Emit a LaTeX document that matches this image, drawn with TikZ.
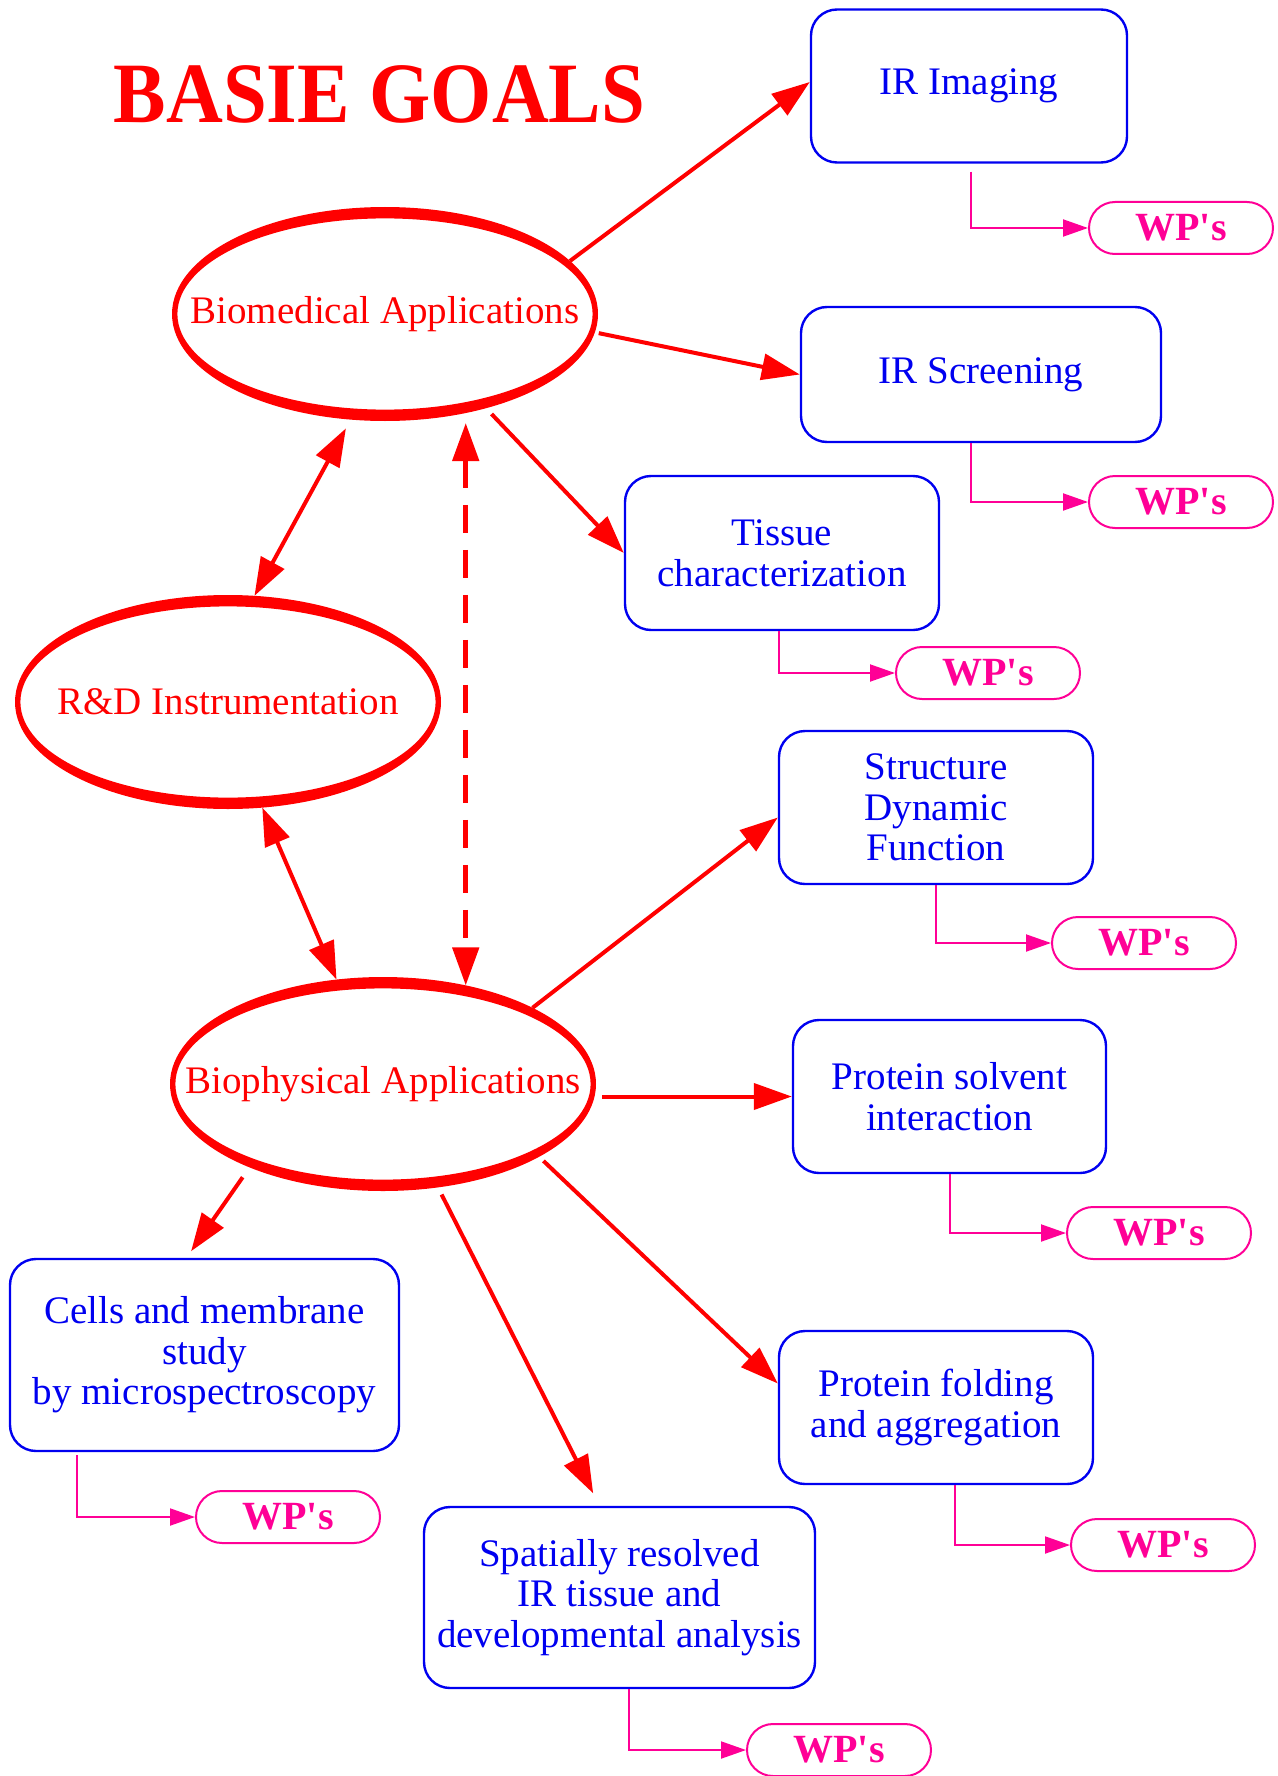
\documentclass[tikz,border=0pt]{standalone}
\usepackage{graphicx}
\usepackage{fontspec}
\setmainfont{Liberation Serif}
\usetikzlibrary{arrows.meta,shapes.geometric}
\definecolor{myred}{RGB}{255,0,0}
\definecolor{myblue}{RGB}{0,0,240}
\definecolor{mymag}{RGB}{255,0,150}
\newcommand{\wptext}{WP\textquotesingle s}
\begin{document}
\begin{tikzpicture}[x=0.5pt,y=-0.5pt,
  goal/.style={ellipse, minimum width=213pt, minimum height=107pt, inner sep=0pt, outer sep=0pt, text=myred, font=\fontsize{19.5}{20.3}\selectfont},
  ring/.style={fill=myred, even odd rule},
  box/.style={draw=myblue, line width=1.2pt, rounded corners=13pt, text=myblue, align=center, font=\fontsize{19.5}{20.3}\selectfont, inner sep=0pt},
  wp/.style={draw=mymag, line width=1pt, rounded corners=13pt, minimum width=92pt, minimum height=26pt, text=mymag, font=\fontsize{20}{20}\selectfont\bfseries, inner sep=0pt},
  redarr/.style={draw=myred, line width=2pt, -{Triangle[length=19pt,width=13pt]}},
  dblarr/.style={draw=myred, line width=2pt, {Triangle[length=19pt,width=13pt]}-{Triangle[length=19pt,width=13pt]}},
  dasharr/.style={draw=myred, line width=2.5pt, dash pattern=on 14pt off 8.5pt, {Triangle[length=19pt,width=13pt]}-{Triangle[length=19pt,width=13pt]}},
  wparr/.style={draw=mymag, line width=1pt, -{Triangle[length=12.5pt,width=8.5pt]}},
  ]
\useasboundingbox (0,0) rectangle (1278,1776);

% title
\node[anchor=base, text=myred, font=\fontsize{43}{43}\selectfont\bfseries, inner sep=0pt] (title) at (379.5,123) {\scalebox{0.915}[1]{BASIE GOALS}};

% ellipses
\node[goal] (bio) at (385,314) {\makebox[0pt]{Biomedical Applications}};
\node[goal] (rd) at (228,702) {\makebox[0pt]{R\&D Instrumentation}};
\node[goal] (biop) at (383,1084) {\makebox[0pt]{Biophysical Applications}};
\foreach \n in {bio,rd,biop}{
  \fill[ring] (\n.center) ellipse [x radius=106.5pt, y radius=53.5pt]
              (\n.center) ellipse [x radius=103.8pt, y radius=47.8pt];
}

% boxes
\node[box, minimum width=158pt, minimum height=76.5pt] (irimg) at (969,86) {IR Imaging};
\node[box, minimum width=180pt, minimum height=67.5pt] (irscr) at (981,374.5) {IR Screening};
\node[box, minimum width=157pt, minimum height=77pt] (tissue) at (782,553) {Tissue\\characterization};
\node[box, minimum width=157pt, minimum height=76.5pt] (struct) at (936,807.5) {Structure\\Dynamic\\Function};
\node[box, minimum width=156.5pt, minimum height=76.5pt] (solvent) at (949.5,1096.5) {Protein solvent\\interaction};
\node[box, minimum width=157pt, minimum height=76.5pt] (folding) at (936,1407.5) {Protein folding\\and aggregation};
\node[box, minimum width=194.5pt, minimum height=96pt] (cells) at (204.5,1355) {Cells and membrane\\study\\by microspectroscopy};
\node[box, minimum width=195.5pt, minimum height=90.5pt] (spatial) at (619.5,1597.5) {Spatially resolved\\IR tissue and\\developmental analysis};

% WP's
\node[wp] (wp1) at (1181,228) {\wptext};
\node[wp] (wp2) at (1181,502) {\wptext};
\node[wp] (wp3) at (988,673) {\wptext};
\node[wp] (wp4) at (1144,943) {\wptext};
\node[wp] (wp5) at (1159,1233) {\wptext};
\node[wp] (wp6) at (1163,1545) {\wptext};
\node[wp] (wp7) at (288,1517) {\wptext};
\node[wp] (wp8) at (839,1750) {\wptext};

% WP connectors
\draw[wparr, shorten <=4pt] ([xshift=1pt]irimg.south) |- (wp1.west);
\draw[wparr] ([xshift=-5pt]irscr.south) |- (wp2.west);
\draw[wparr] ([xshift=-1.5pt]tissue.south) |- (wp3.west);
\draw[wparr] (struct.south) |- (wp4.west);
\draw[wparr] (solvent.south) |- (wp5.west);
\draw[wparr] ([xshift=9.5pt]folding.south) |- (wp6.west);
\draw[wparr, shorten <=1.5pt] ([xshift=-63.75pt]cells.south) |- (wp7.west);
\draw[wparr] ([xshift=4.75pt]spatial.south) |- (wp8.west);

% red arrows
\draw[redarr] (bio.16.5) -- ([yshift=2pt]irimg.west);
\draw[redarr, shorten <=2pt] (bio.-5.6) -- (irscr.west);
\draw[redarr, shorten <=4pt] (bio.-43) -- (tissue.west);
\draw[dblarr, shorten <=5pt] (bio.-108.3) -- (rd.76);
\draw[dasharr, shorten <=1pt] (biop.50.3 |- bio.south) -- (biop.50.3);
\draw[dblarr] (rd.-72.8) -- (biop.114.6);
\draw[redarr] (biop.27.5) -- ([yshift=-5pt]struct.west);
\draw[redarr, shorten <=3pt] (biop.east |- solvent.west) -- (solvent.west);
\draw[redarr, shorten <=3pt] (biop.-25.6) -- ([yshift=12pt]folding.west);
\draw[redarr, shorten <=6pt, shorten >=4pt] (biop.-148) -- ([xshift=-9pt]cells.north);
\draw[redarr, shorten <=4pt, shorten >=7pt] (biop.-62.2) -- ([xshift=-10pt]spatial.north);
\end{tikzpicture}
\end{document}
